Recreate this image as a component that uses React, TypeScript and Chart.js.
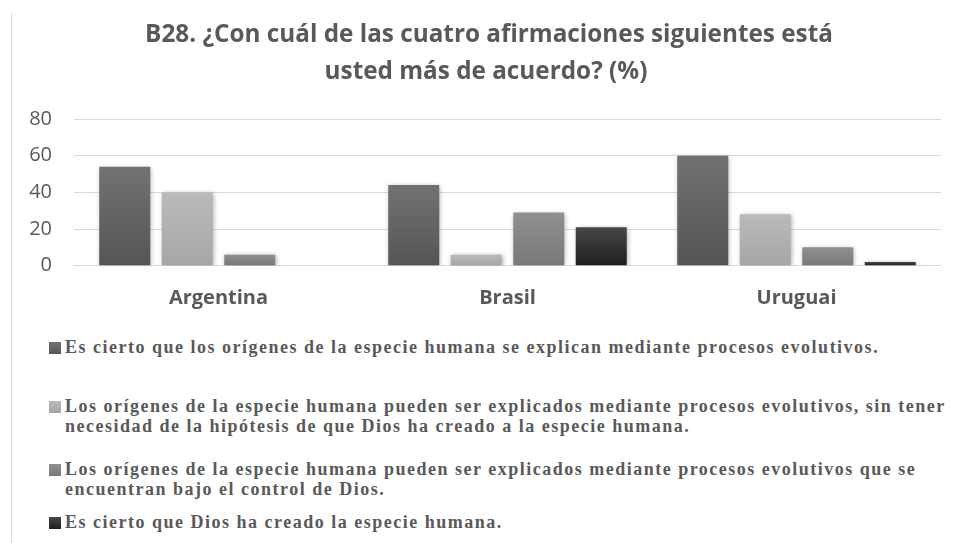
import React, { useEffect, useRef } from "react";
import { Chart, registerables } from "chart.js";

Chart.register(...registerables);

const titleLines = [
  "B28. ¿Con cuál de las cuatro afirmaciones siguientes está",
  "usted más de acuerdo? (%)",
];
const categories = ["Argentina", "Brasil", "Uruguai"];
const seriesLabels = [
  "Es cierto que los orígenes de la especie humana se explican mediante procesos evolutivos.",
  "Los orígenes de la especie humana pueden ser explicados mediante procesos evolutivos, sin tener\nnecesidad de la hipótesis de que Dios ha creado a la especie humana.",
  "Los orígenes de la especie humana pueden ser explicados mediante procesos evolutivos que se\nencuentran bajo el control de Dios.",
  "Es cierto que Dios ha creado la especie humana.",
];
const evolutivos = [54, 44, 60];
const sinDios = [40, 6, 28];
const controlDios = [6, 29, 10];
const creacion = [0, 21, 2];
const yTicks = [0, 20, 40, 60, 80];

const seriesValues = [evolutivos, sinDios, controlDios, creacion];
const gradTop = ["#727272", "#bababa", "#909090", "#474747"];
const gradBottom = ["#555555", "#a6a6a6", "#787878", "#1e1e1e"];
const legendTops = [338, 397, 460, 513];

const makeBg = (top: string, bottom: string) => (ctx: any) => {
  const chart = ctx.chart;
  if (!chart.chartArea || ctx.type !== "data") return bottom;
  const ys = chart.scales.y;
  const v = ctx.parsed ? ctx.parsed.y : 0;
  const y0 = ys.getPixelForValue(0);
  const y1 = ys.getPixelForValue(v);
  if (!isFinite(y0) || !isFinite(y1) || Math.abs(y0 - y1) < 1) return bottom;
  const g = chart.ctx.createLinearGradient(0, y1, 0, y0);
  g.addColorStop(0, top);
  g.addColorStop(1, bottom);
  return g;
};

const shadowPlugin = {
  id: "barShadow",
  beforeDatasetsDraw(chart: any) {
    const c = chart.ctx;
    c.save();
    c.shadowColor = "rgba(0,0,0,0.35)";
    c.shadowBlur = 5;
    c.shadowOffsetX = 1;
    c.shadowOffsetY = 1;
  },
  afterDatasetsDraw(chart: any) {
    chart.ctx.restore();
  },
};

const titlePlugin = {
  id: "offsetTitle",
  afterDraw(chart: any) {
    const c = chart.ctx;
    c.save();
    c.font = "bold 24.3px 'Open Sans'";
    c.fillStyle = "#595959";
    c.textAlign = "center";
    c.textBaseline = "alphabetic";
    c.fillText(titleLines[0], 489, 42);
    c.fillText(titleLines[1], 486, 79);
    c.restore();
  },
};

export default function App() {
  const canvasRef = useRef<HTMLCanvasElement | null>(null);

  useEffect(() => {
    if (!canvasRef.current) return;
    const chart = new Chart(canvasRef.current, {
      type: "bar",
      data: {
        labels: categories,
        datasets: seriesValues.map((vals, i) => ({
          label: seriesLabels[i],
          data: vals,
          backgroundColor: makeBg(gradTop[i], gradBottom[i]),
          borderWidth: 0,
          categoryPercentage: 0.865,
          barPercentage: 0.816,
        })),
      },
      plugins: [shadowPlugin, titlePlugin],
      options: {
        responsive: false,
        animation: false,
        devicePixelRatio: 1,
        layout: { padding: { left: 0, right: 16, top: 119, bottom: 0 } },
        plugins: {
          legend: { display: false },
          tooltip: { enabled: false },
          title: { display: false },
        },
        scales: {
          x: {
            grid: { display: false },
            border: { display: false },
            ticks: {
              color: "#595959",
              font: { family: "'Open Sans'", size: 20, weight: "bold" },
              padding: 13,
            },
            afterFit: (scale: any) => {
              scale.height = 54.3;
            },
          },
          y: {
            min: 0,
            max: 80,
            grid: { color: "#d9d9d9", lineWidth: 1, drawTicks: false },
            border: { display: false },
            afterBuildTicks: (scale: any) => {
              scale.ticks = yTicks.map((v) => ({ value: v }));
            },
            ticks: {
              color: "#595959",
              font: { family: "'Open Sans'", size: 20 },
              padding: 22,
            },
            afterFit: (scale: any) => {
              scale.width = 74;
            },
          },
        },
      },
    });
    return () => chart.destroy();
  }, []);

  return (
    <div
      style={{
        position: "absolute",
        left: 0,
        top: 0,
        width: 957,
        height: 543,
        background: "#ffffff",
        overflow: "hidden",
      }}
    >
      <div
        style={{
          position: "absolute",
          left: 11,
          top: 13,
          width: 1,
          height: 530,
          background: "#d9d9d9",
        }}
      />
      <canvas
        ref={canvasRef}
        width={957}
        height={320}
        style={{ position: "absolute", left: 0, top: 0, width: 957, height: 320 }}
      />
      {seriesLabels.map((label, i) => (
        <div
          key={i}
          style={{
            position: "absolute",
            left: 49,
            top: legendTops[i],
            display: "flex",
            alignItems: "flex-start",
          }}
        >
          <div
            style={{
              width: 12,
              height: 12,
              marginTop: 3.5,
              marginRight: 4,
              flex: "none",
              background: `linear-gradient(to bottom, ${gradTop[i]}, ${gradBottom[i]})`,
            }}
          />
          <div
            style={{
              fontFamily: "'Liberation Serif', serif",
              fontWeight: "bold",
              fontSize: 18,
              lineHeight: "19.5px",
              letterSpacing: 1.5,
              color: "#595959",
              whiteSpace: "pre",
            }}
          >
            {label}
          </div>
        </div>
      ))}
    </div>
  );
}
